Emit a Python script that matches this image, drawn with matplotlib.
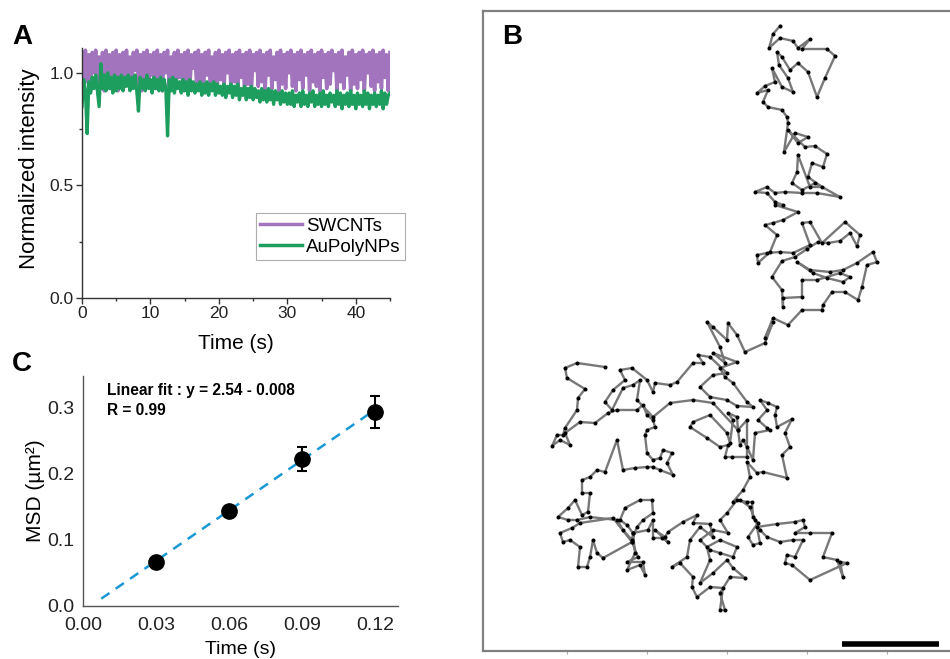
import numpy as np
import matplotlib
matplotlib.use('Agg')
import matplotlib.pyplot as plt

plt.rcParams['font.family'] = ['Liberation Sans', 'DejaVu Sans']

# ---- panel A: normalized intensity traces ----
swcnt = [
    1.09, 0.93, 1.10, 0.96, 1.08, 0.92, 1.09, 1.00, 1.10, 0.94, 1.07, 0.97, 1.09, 0.92, 1.10, 0.99, 1.08, 0.93, 1.09, 0.95,
    1.10, 0.92, 1.08, 0.98, 1.09, 0.94, 1.10, 0.96, 1.07, 0.93, 1.09, 1.01, 1.10, 0.95, 1.08, 0.92, 1.09, 0.97, 1.10, 0.94,
    1.08, 0.99, 1.09, 0.93, 1.10, 0.96, 1.08, 0.92, 1.09, 1.00, 1.10, 0.94, 1.07, 0.97, 1.09, 0.93, 1.10, 0.98, 1.08, 0.92,
    1.09, 0.95, 1.10, 0.93, 1.08, 1.02, 1.09, 0.94, 1.10, 0.96, 1.08, 0.92, 1.09, 0.99, 1.10, 0.93, 1.07, 0.95, 1.09, 0.92,
    1.10, 0.97, 1.08, 0.93, 1.09, 1.00, 1.10, 0.94, 1.08, 0.96, 1.09, 0.92, 1.10, 0.98, 1.08, 0.93, 1.09, 0.95, 1.10, 0.92,
    1.08, 1.01, 1.09, 0.94, 1.10, 0.96, 1.08, 0.92, 1.09, 0.99, 1.10, 0.93, 1.07, 0.97, 1.09, 0.92, 1.10, 0.95, 1.08, 0.93,
    1.09, 1.00, 1.10, 0.94, 1.08, 0.92, 1.09, 0.97, 1.10, 0.93, 1.08, 0.99, 1.09, 0.92, 1.10, 0.96, 1.08, 0.94, 1.09, 0.92,
    1.10, 0.98, 1.08, 0.93, 1.09, 0.95, 1.10, 1.01, 1.08, 0.92, 1.09, 0.96, 1.10, 0.93, 1.07, 0.99, 1.09, 0.92, 1.10, 0.95,
    1.08, 0.93, 1.09, 0.97, 1.10, 0.92, 1.08, 1.00, 1.09, 0.94, 1.10, 0.92, 1.08, 0.96, 1.09, 0.93, 1.10, 0.98, 1.08, 0.92,
    1.09,
]
aupoly = [
    0.85, 0.97, 0.92, 0.73, 0.96, 0.91, 0.98, 0.93, 0.99, 0.92, 0.85, 1.04, 0.93, 0.99, 0.92, 1.00, 0.93, 0.98, 0.91, 0.99,
    0.92,
    0.98, 0.93, 0.99, 0.92, 0.98, 0.94, 0.99, 0.92, 0.98, 0.93, 0.99, 0.92,
    0.83,
    0.98, 0.93, 0.97, 0.92, 0.99, 0.93, 0.97, 0.91, 0.98, 0.93, 0.97, 0.92, 0.98, 0.92, 0.97, 0.93,
    0.72,
    0.97, 0.92, 0.98, 0.91, 0.97, 0.93, 0.96, 0.91, 0.97, 0.92, 0.96, 0.90, 0.97, 0.92, 0.96, 0.91, 0.95, 0.92, 0.96, 0.90,
    0.95, 0.91, 0.96, 0.90, 0.95, 0.92, 0.96, 0.90, 0.95, 0.91,
    0.94, 0.90, 0.95, 0.89, 0.94, 0.91, 0.95, 0.89, 0.94, 0.90, 0.95, 0.88, 0.93, 0.90, 0.94, 0.88, 0.93, 0.89, 0.94, 0.88,
    0.93, 0.89, 0.92, 0.87, 0.93, 0.88, 0.92, 0.87, 0.93, 0.88, 0.92, 0.86, 0.92, 0.88, 0.91, 0.86, 0.92, 0.87, 0.91, 0.86,
    0.91, 0.86, 0.92, 0.85, 0.90, 0.87, 0.91, 0.85, 0.92, 0.86, 0.90, 0.85, 0.91, 0.87, 0.92, 0.85, 0.90, 0.86, 0.91, 0.85,
    0.92, 0.86, 0.90, 0.85, 0.91, 0.87, 0.90, 0.85, 0.92, 0.86, 0.91, 0.84, 0.90, 0.86, 0.91, 0.85, 0.92, 0.86, 0.90, 0.84,
    0.91, 0.86, 0.90, 0.85, 0.92, 0.86, 0.91, 0.84, 0.90, 0.86, 0.91, 0.85, 0.90, 0.86, 0.92, 0.84, 0.91, 0.86, 0.90, 0.91,
]
time_a = np.linspace(0, 45, len(swcnt))

# ---- panel C: MSD ----
lag = [0.03, 0.06, 0.09, 0.12]
msd = [0.067, 0.144, 0.222, 0.294]
msd_lo = [0.006, 0.008, 0.018, 0.025]
msd_hi = [0.006, 0.008, 0.018, 0.024]
fit_slope, fit_icpt = 2.54, -0.008
fit_x = [0.0075, 0.12]

# ---- panel B: trajectory (image pixel units) ----
traj = [
    (605, 367), (577, 363), (565, 368), (567, 378), (585, 389), (578, 398), (577, 410), (565, 428), (563, 435), (557, 435),
    (552, 446), (560, 440), (570, 445), (565, 433), (580, 422), (595, 423), (608, 413), (617, 410), (637, 410), (643, 405),
    (647, 415), (653, 420), (655, 427), (647, 430), (645, 435), (647, 453), (653, 460), (660, 458), (663, 450), (672, 453),
    (667, 463), (673, 475), (660, 470), (653, 467), (647, 467), (635, 468), (623, 470), (617, 440), (605, 472), (597, 470),
    (590, 477), (582, 480), (582, 493), (590, 493), (588, 512), (582, 515), (575, 500), (568, 508), (558, 517), (568, 520),
    (577, 520), (590, 517), (617, 520), (623, 530), (632, 540), (637, 527), (643, 520), (653, 513), (652, 500), (640, 500),
    (625, 508), (620, 520),
    (627, 525), (633, 533), (632, 542), (603, 558), (597, 553), (593, 540), (590, 557), (587, 567), (578, 567), (580, 547),
    (570, 540), (563, 542), (560, 533), (572, 528), (580, 523), (613, 518), (632, 542), (638, 557), (627, 562), (643, 562),
    (645, 575), (640, 565), (627, 570), (635, 553), (633, 533), (648, 530), (653, 520), (653, 538), (662, 538), (668, 542),
    (655, 530), (665, 537), (668, 532), (683, 522), (697, 515), (693, 523),
    (710, 524), (713, 537), (700, 527), (690, 540), (687, 557), (672, 567), (680, 563), (693, 577), (692, 587), (697, 597),
    (710, 587), (723, 588), (720, 610), (725, 610), (720, 593), (730, 577), (745, 578), (733, 568), (727, 560), (713, 573),
    (700, 583), (710, 560), (707, 547), (720, 540), (737, 547), (733, 557), (720, 553), (710, 550), (700, 540), (713, 530),
    (728, 533), (720, 520), (727, 513), (737, 500), (747, 502), (752, 502), (753, 517), (758, 523), (748, 537), (753, 545),
    (760, 543), (757, 527),
    (777, 524), (795, 522), (803, 520), (805, 527), (795, 533), (810, 533), (832, 533), (823, 557), (837, 560), (843, 577),
    (840, 562), (847, 563), (810, 580), (792, 565), (785, 563), (787, 555), (795, 557), (803, 540), (793, 540), (780, 542),
    (767, 537), (760, 530), (755, 520),
    (750, 507), (740, 500), (733, 502), (743, 490), (750, 477), (747, 462), (757, 473), (763, 472), (787, 478), (782, 455),
    (790, 447), (785, 433), (792, 419), (777, 427), (775, 415), (777, 407), (768, 403), (760, 400), (767, 410), (758, 420),
    (767, 428), (770, 430), (755, 433), (753, 460), (747, 447), (743, 440), (740, 445), (738, 430), (747, 420), (747, 457),
    (732, 457), (725, 457), (728, 445), (720, 447), (707, 438), (690, 427), (693, 422), (710, 415), (727, 433), (730, 443),
    (733, 420), (728, 413), (737, 417), (738, 430), (713, 403), (693, 400), (670, 403), (653, 417), (637, 400), (640, 380),
    (633, 385), (623, 388), (612, 410), (605, 402), (613, 390), (625, 380), (620, 370), (632, 368), (647, 380), (653, 392),
    (655, 383), (670, 385), (677, 382), (693, 363), (703, 363), (698, 355), (710, 357), (727, 373), (713, 375), (700, 387),
    (710, 397), (727, 400), (737, 406), (753, 407), (747, 402), (733, 383), (725, 377), (720, 368), (737, 362), (713, 353),
    (725, 363), (720, 347), (707, 322), (713, 327), (727, 340), (728, 323), (737, 335), (745, 352), (765, 343), (773, 322),
    (765, 338), (773, 318), (788, 325), (802, 310), (822, 310), (823, 305), (832, 292), (845, 292), (858, 300), (862, 287),
    (867, 265), (877, 262), (873, 252), (857, 263), (843, 270), (830, 272), (810, 270), (797, 262), (813, 273), (827, 278),
    (843, 282), (850, 277), (840, 273), (817, 280), (802, 280), (802, 297), (783, 298), (783, 307), (782, 290), (772, 277),
    (782, 261), (795, 257), (807, 249), (818, 242), (828, 243), (840, 241), (850, 233), (857, 246), (860, 235), (845, 222),
    (822, 243), (810, 222), (802, 223), (810, 245), (793, 253), (780, 252), (767, 253), (757, 255), (758, 263), (770, 252),
    (777, 235), (765, 225), (773, 223), (783, 220), (798, 212), (775, 205), (783, 205), (775, 202), (767, 193), (755, 192),
    (767, 187), (775, 193), (785, 192), (802, 193), (817, 193), (840, 197), (815, 183), (802, 190), (792, 183), (797, 172),
    (798, 155), (810, 187), (822, 187), (808, 177), (812, 163), (823, 167), (827, 154), (815, 146), (805, 147), (788, 130),
    (798, 143), (808, 137), (795, 133), (784, 152), (788, 123), (787, 117), (782, 110), (768, 107), (763, 102), (768, 90),
    (757, 93), (765, 86), (775, 82), (772, 68), (782, 87), (793, 92), (788, 78), (779, 65), (777, 52), (782, 57),
    (790, 70), (798, 63), (808, 72), (817, 97), (825, 78), (835, 56), (827, 49), (802, 49), (810, 39), (798, 48),
    (793, 41), (780, 38), (769, 48), (773, 34), (780, 26),
]
traj_x = [p[0] for p in traj]
traj_y = [p[1] for p in traj]
scalebar_x = [842, 939]
scalebar_y = [644, 644]

W, H = 950, 659
fig = plt.figure(figsize=(W / 100, H / 100), dpi=100)
fig.patch.set_facecolor('white')


def fr(left, top, right, bottom):
    return [left / W, 1 - bottom / H, (right - left) / W, (bottom - top) / H]


# ---------------- A ----------------
axA = fig.add_axes(fr(82, 48, 390, 298))
axA.plot(time_a, swcnt, color='#a274bd', lw=2.6, label='SWCNTs')
axA.plot(time_a, aupoly, color='#1d9e5e', lw=2.4, label='AuPolyNPs')
axA.set_xlim(0, 45)
axA.set_ylim(0, 1.11)
axA.set_xticks([0, 10, 20, 30, 40])
axA.set_xticks([5, 15, 25, 35, 45], minor=True)
axA.set_yticks([0.0, 0.5, 1.0])
axA.set_yticklabels(['0.0', '0.5', '1.0'])
axA.set_yticks([0.25, 0.75], minor=True)
for s in ['top', 'right']:
    axA.spines[s].set_visible(False)
for s in ['left', 'bottom']:
    axA.spines[s].set_color('#333333')
    axA.spines[s].set_linewidth(1.0)
axA.tick_params(which='major', length=4, width=1, labelsize=12.5, colors='#333333',
                labelcolor='#222222', pad=2)
axA.tick_params(which='minor', length=2.5, width=1, colors='#333333')
axA.set_xlabel('Time (s)', fontsize=15, labelpad=9)
axA.set_ylabel('Normalized intensity', fontsize=16)
axA.yaxis.set_label_coords(-0.135, 0.516)
leg = axA.legend(loc='lower right', bbox_to_anchor=(1.05, 0.15), fontsize=13.5, frameon=True,
                 fancybox=False, edgecolor='#999999', handlelength=2.2, handletextpad=0.25,
                 borderpad=0.25, labelspacing=0.2, borderaxespad=0)
leg.get_frame().set_linewidth(0.8)
for ln in leg.get_lines():
    ln.set_linewidth(2.5)

# ---------------- C ----------------
axC = fig.add_axes(fr(83, 376, 398, 606))
axC.plot(fit_x, [fit_slope * v + fit_icpt for v in fit_x], ls=(0, (4, 3)), color='#1a98d5', lw=1.8, zorder=2)
axC.errorbar(lag, msd, yerr=[msd_lo, msd_hi], fmt='o', color='black', ms=11, capsize=3.5,
             elinewidth=1.5, capthick=1.5, zorder=3)
axC.set_xlim(0, 0.1295)
axC.set_ylim(0, 0.348)
axC.set_xticks([0.0, 0.03, 0.06, 0.09, 0.12])
axC.set_xticklabels(['0.00', '0.03', '0.06', '0.09', '0.12'])
axC.set_yticks([0.0, 0.1, 0.2, 0.3])
axC.set_yticklabels(['0.0', '0.1', '0.2', '0.3'])
axC.tick_params(axis='x', length=0, labelsize=14, pad=8, labelcolor='#222222')
axC.tick_params(axis='y', length=0, labelsize=14, pad=6, labelcolor='#222222')
for s in ['top', 'right']:
    axC.spines[s].set_visible(False)
for s in ['left', 'bottom']:
    axC.spines[s].set_color('#555555')
    axC.spines[s].set_linewidth(1.0)
axC.set_xlabel('Time (s)', fontsize=14, labelpad=5)
axC.set_ylabel('MSD (µm²)', fontsize=15, labelpad=2)
axC.text(0.0098, 0.311, 'Linear fit : y = 2.54 - 0.008\nR = 0.99', fontsize=11.2, fontweight='bold',
         va='center', ha='left', linespacing=1.4)

# ---------------- B ----------------
axB = fig.add_axes(fr(483, 11, 962, 651))
axB.plot(traj_x, traj_y, '-', color='#787878', lw=1.7, zorder=2)
axB.plot(traj_x, traj_y, 'o', color='black', ms=1.9, zorder=3)
axB.plot(scalebar_x, scalebar_y, color='black', lw=4, solid_capstyle='butt')
axB.set_xlim(483, 962)
axB.set_ylim(651, 11)
axB.set_xticks([567, 647, 727, 807, 887])
axB.set_xticklabels([])
axB.set_yticks([])
axB.tick_params(axis='x', length=2, width=0.8, colors='#aaaaaa', direction='out')
for s in ['left', 'top', 'bottom']:
    axB.spines[s].set_color('#808080')
    axB.spines[s].set_linewidth(1.6)
axB.spines['right'].set_visible(False)

# panel letters
fig.text(12 / W, 1 - 37 / H, 'A', fontsize=20, fontweight='bold', va='center', ha='left')
fig.text(502 / W, 1 - 37 / H, 'B', fontsize=20, fontweight='bold', va='center', ha='left')
fig.text(12 / W, 1 - 364 / H, 'C', fontsize=20, fontweight='bold', va='center', ha='left')

fig.savefig('out.png', dpi=100, facecolor='white')
